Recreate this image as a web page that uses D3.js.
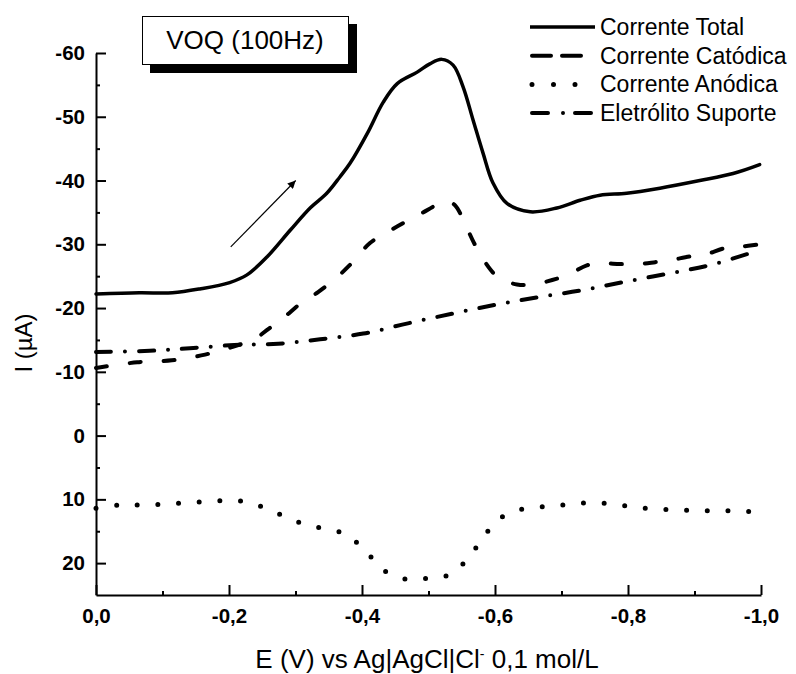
<!DOCTYPE html>
<html>
<head>
<meta charset="utf-8">
<script src="https://cdn.jsdelivr.net/npm/d3@7"></script>
<style>
  body { margin: 0; background: #fff; }
  svg { display: block; }
</style>
</head>
<body>
<div id="chart"></div>
<script>
// E (V) and I (uA)
const totalCurve = [
  [0, -22.2], [-0.065, -22.4], [-0.115, -22.4], [-0.156, -23.0], [-0.201, -24.0],
  [-0.227, -25.2], [-0.257, -28.0], [-0.292, -32.2], [-0.322, -35.7], [-0.347, -38.0],
  [-0.367, -40.6], [-0.382, -42.7], [-0.408, -47.4], [-0.432, -52.3], [-0.453, -55.2],
  [-0.483, -57.0], [-0.502, -58.3], [-0.520, -59.0], [-0.537, -58.1], [-0.552, -54.7],
  [-0.567, -49.5], [-0.582, -44.3], [-0.597, -39.6], [-0.618, -36.4], [-0.653, -35.1],
  [-0.693, -35.7], [-0.728, -36.9], [-0.758, -37.7], [-0.798, -38.0], [-0.848, -38.8],
  [-0.908, -40.0], [-0.958, -41.1], [-0.998, -42.5]
];
const cathodicCurve = [
  [0, -10.6], [-0.062, -11.5], [-0.114, -11.8], [-0.164, -12.7], [-0.208, -14.0],
  [-0.239, -15.2], [-0.259, -16.7], [-0.281, -18.4], [-0.311, -21.0], [-0.334, -22.5],
  [-0.362, -24.8], [-0.386, -27.2], [-0.412, -30.2], [-0.438, -31.9], [-0.465, -33.5],
  [-0.490, -34.9], [-0.517, -36.4], [-0.529, -36.7], [-0.540, -36.1], [-0.558, -32.5],
  [-0.568, -30.3], [-0.585, -27.2], [-0.605, -24.8], [-0.633, -23.7], [-0.657, -23.7],
  [-0.686, -24.4], [-0.710, -25.2], [-0.738, -26.7], [-0.761, -27.0], [-0.788, -26.9],
  [-0.814, -26.9], [-0.841, -27.2], [-0.863, -27.5], [-0.893, -28.1], [-0.916, -28.4],
  [-0.946, -29.4], [-0.968, -29.6], [-0.998, -30.0]
];
const anodicCurve = [
  [0, 11.4], [-0.034, 10.9], [-0.064, 10.9], [-0.095, 10.8], [-0.126, 10.6],
  [-0.157, 10.4], [-0.189, 10.2], [-0.220, 10.3], [-0.251, 11.2], [-0.282, 12.6],
  [-0.313, 13.9], [-0.344, 14.6], [-0.376, 15.5], [-0.406, 18.2], [-0.435, 21.3],
  [-0.466, 22.5], [-0.497, 22.4], [-0.527, 22.0], [-0.558, 19.5], [-0.580, 16.3],
  [-0.606, 13.1], [-0.638, 11.6], [-0.669, 11.2], [-0.700, 10.9], [-0.731, 10.6],
  [-0.763, 10.6], [-0.794, 11.0], [-0.825, 11.4], [-0.856, 11.6], [-0.887, 11.7],
  [-0.918, 11.8], [-0.949, 11.8], [-0.981, 11.9], [-1.0, 11.9]
];
const electrolyteCurve = [
  [0, -13.1], [-0.081, -13.3], [-0.141, -13.7], [-0.208, -14.2], [-0.274, -14.4],
  [-0.337, -15.1], [-0.402, -16.0], [-0.469, -17.6], [-0.535, -19.1], [-0.600, -20.5],
  [-0.665, -21.7], [-0.731, -22.8], [-0.794, -24.1], [-0.860, -25.4], [-0.926, -26.8],
  [-0.998, -29.1]
];

const seriesNames = ["Corrente Total", "Corrente Catódica", "Corrente Anódica", "Eletrólito Suporte"];
const xTicks = [0, -0.2, -0.4, -0.6, -0.8, -1.0];
const xMinor = [-0.1, -0.3, -0.5, -0.7, -0.9];
const yTicks = [-60, -50, -40, -30, -20, -10, 0, 10, 20];
const yMinor = [-55, -45, -35, -25, -15, -5, 5, 15];
const arrowPts = [[-0.2026, -29.6], [-0.3003, -40.0]];

const width = 796, height = 674;
const font = "'Liberation Sans', Arial, sans-serif";

const x = d3.scaleLinear().domain([0, -1]).range([96, 761]);
const y = d3.scaleLinear().domain([-60, 25]).range([53, 595]);

const svg = d3.select("#chart").append("svg")
  .attr("width", width)
  .attr("height", height)
  .attr("viewBox", [0, 0, width, height]);

// arrow head marker
svg.append("defs").append("marker")
  .attr("id", "arr")
  .attr("viewBox", "0 0 10 10")
  .attr("refX", 10).attr("refY", 5)
  .attr("markerWidth", 12).attr("markerHeight", 8)
  .attr("markerUnits", "userSpaceOnUse")
  .attr("orient", "auto")
  .append("path")
  .attr("d", "M0,0L10,5L0,10z")
  .attr("fill", "#000");

// curves
const line = d3.line()
  .x(d => x(d[0]))
  .y(d => y(d[1]))
  .curve(d3.curveCatmullRom.alpha(0.5));

const styles = [
  { data: totalCurve, w: 3.5, dash: null },
  { data: cathodicCurve, w: 4, dash: "11 23" },
  { data: anodicCurve, w: 5, dash: "0 20.7" },
  { data: electrolyteCurve, w: 4, dash: "15 14 0 14" }
];

svg.append("g")
  .selectAll("path")
  .data(styles)
  .join("path")
  .attr("d", d => line(d.data))
  .attr("fill", "none")
  .attr("stroke", "#000")
  .attr("stroke-width", d => d.w)
  .attr("stroke-linecap", "round")
  .attr("stroke-linejoin", "round")
  .attr("stroke-dasharray", d => d.dash);

// axes
const yAxis = svg.append("g")
  .attr("transform", "translate(96,0)")
  .call(d3.axisLeft(y).tickValues(yTicks).tickSize(-10).tickSizeOuter(0)
    .tickPadding(11).tickFormat(d => String(d)));

svg.append("g")
  .attr("transform", "translate(96,0)")
  .call(d3.axisLeft(y).tickValues(yMinor).tickSize(-4).tickSizeOuter(0).tickFormat(""))
  .call(g => g.select(".domain").remove());

const xAxis = svg.append("g")
  .attr("transform", "translate(0,595)")
  .call(d3.axisBottom(x).tickValues(xTicks).tickSize(-10).tickSizeOuter(0)
    .tickPadding(13).tickFormat(d => d === 0 ? "0,0" : d.toFixed(1).replace(".", ",")));

svg.append("g")
  .attr("transform", "translate(0,595)")
  .call(d3.axisBottom(x).tickValues(xMinor).tickSize(-4).tickSizeOuter(0).tickFormat(""))
  .call(g => g.select(".domain").remove());

svg.selectAll(".domain, .tick line")
  .attr("stroke", "#000")
  .attr("stroke-width", 2);

[yAxis, xAxis].forEach(g => g.selectAll("text")
  .attr("fill", "#000")
  .style("font-family", font)
  .style("font-size", "20.5px")
  .style("font-weight", "bold"));

// axis titles
svg.append("text")
  .attr("transform", "translate(32,343) rotate(-90)")
  .attr("text-anchor", "middle")
  .style("font-family", font)
  .style("font-size", "24px")
  .text("I (µA)");

const xl = svg.append("text")
  .attr("x", 427)
  .attr("y", 668)
  .attr("text-anchor", "middle")
  .style("font-family", font)
  .style("font-size", "26px");
xl.append("tspan").text("E (V) vs Ag|AgCl|Cl");
xl.append("tspan").attr("dy", -9).style("font-size", "14px").text("-");
xl.append("tspan").attr("dy", 9).text(" 0,1 mol/L");

// arrow
svg.append("line")
  .attr("x1", x(arrowPts[0][0])).attr("y1", y(arrowPts[0][1]))
  .attr("x2", x(arrowPts[1][0])).attr("y2", y(arrowPts[1][1]))
  .attr("stroke", "#000")
  .attr("stroke-width", 1.2)
  .attr("marker-end", "url(#arr)");

// title box with shadow
svg.append("rect")
  .attr("x", 150).attr("y", 24).attr("width", 207).attr("height", 49)
  .attr("fill", "#000");
svg.append("rect")
  .attr("x", 142.5).attr("y", 16.5).attr("width", 206).attr("height", 48)
  .attr("fill", "#fff").attr("stroke", "#000").attr("stroke-width", 1);
svg.append("text")
  .attr("x", 245).attr("y", 49)
  .attr("text-anchor", "middle")
  .style("font-family", font)
  .style("font-size", "26px")
  .text("VOQ (100Hz)");

// legend
const legendRows = [
  { x1: 530, x2: 595, w: 3.5, dash: null },
  { x1: 532, x2: 581, w: 4, dash: "19 11" },
  { x1: 532, x2: 576, w: 5, dash: "0 21.5" },
  { x1: 532, x2: 593, w: 4, dash: "16 15 0 12" }
];
const legend = svg.append("g")
  .selectAll("g")
  .data(seriesNames)
  .join("g")
  .attr("transform", (d, i) => `translate(0,${27 + i * 28.7})`);

legend.append("line")
  .attr("x1", (d, i) => legendRows[i].x1)
  .attr("x2", (d, i) => legendRows[i].x2)
  .attr("stroke", "#000")
  .attr("stroke-width", (d, i) => legendRows[i].w)
  .attr("stroke-linecap", (d, i) => i === 0 ? "butt" : "round")
  .attr("stroke-dasharray", (d, i) => legendRows[i].dash);

legend.append("text")
  .attr("x", 600)
  .attr("dy", "0.35em")
  .style("font-family", font)
  .style("font-size", "23px")
  .text(d => d);
</script>
</body>
</html>
